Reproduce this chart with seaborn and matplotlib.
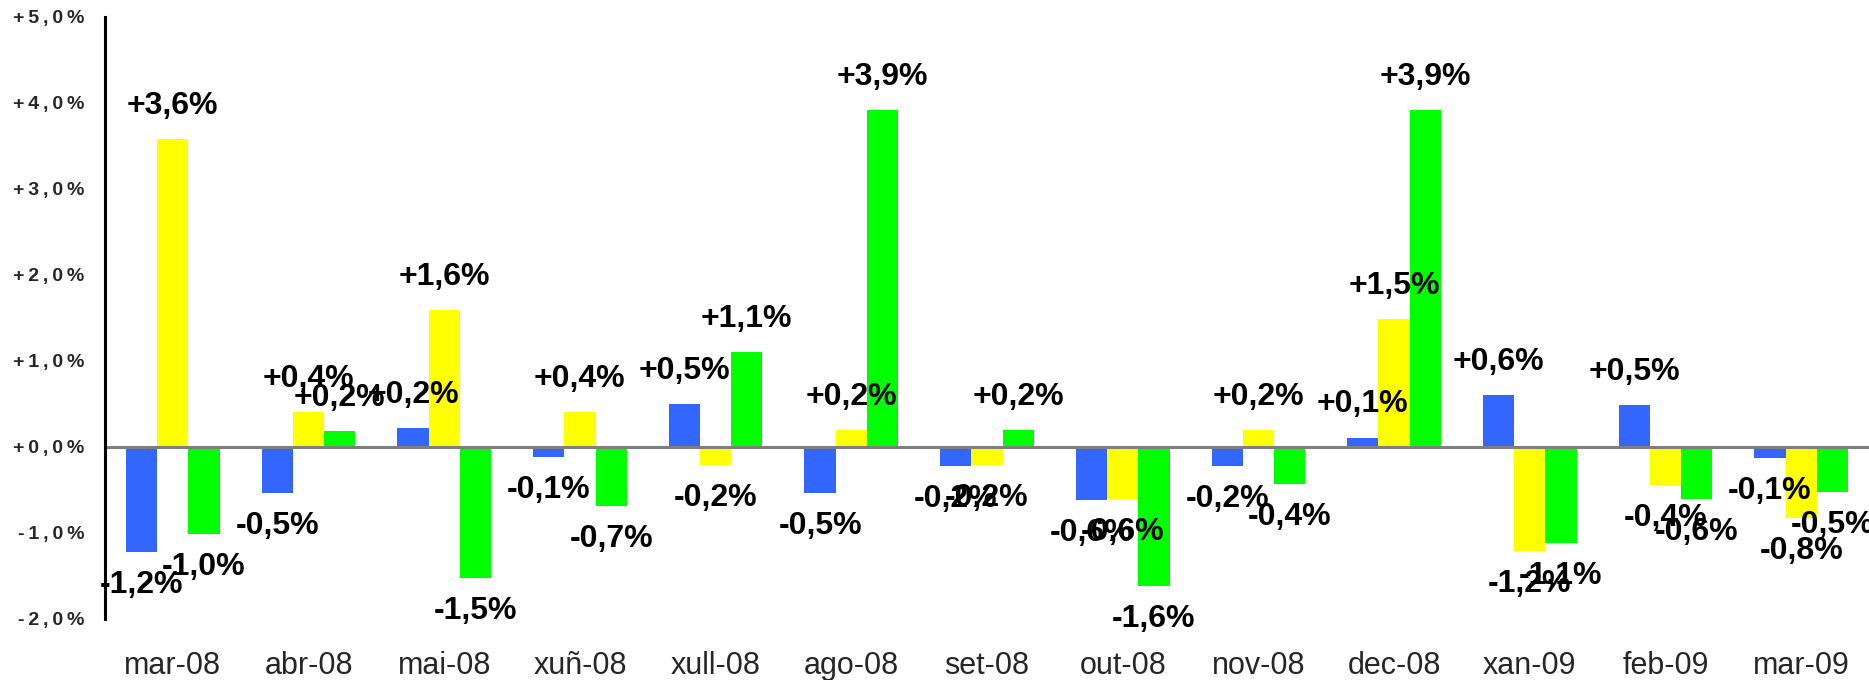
import matplotlib
matplotlib.use("Agg")
import matplotlib.pyplot as plt
import pandas as pd
import seaborn as sns
from matplotlib.ticker import FixedLocator, FuncFormatter

# months on the x axis
meses = ["mar-08", "abr-08", "mai-08", "xuñ-08", "xull-08", "ago-08", "set-08",
         "out-08", "nov-08", "dec-08", "xan-09", "feb-09", "mar-09"]

# monthly variation (%) for the three series
azul = [-1.22, -0.53, 0.22, -0.12, 0.50, -0.54, -0.22, -0.62, -0.22, 0.11, 0.60, 0.49, -0.13]
amarelo = [3.58, 0.41, 1.59, 0.41, -0.21, 0.20, -0.21, -0.60, 0.20, 1.49, -1.21, -0.44, -0.82]
verde = [-1.01, 0.19, -1.52, -0.69, 1.10, 3.92, 0.20, -1.62, -0.43, 3.92, -1.12, -0.60, -0.52]

series = ["azul", "amarelo", "verde"]
cores = ["#3366FF", "#FFFF00", "#00FF00"]
yticks = [-2, -1, 0, 1, 2, 3, 4, 5]

df = pd.DataFrame({
    "mes": meses * 3,
    "serie": [s for s in series for _ in meses],
    "valor": azul + amarelo + verde,
})

sns.set_style("white")
plt.rcParams["font.family"] = ["Liberation Sans", "DejaVu Sans"]

fig = plt.figure(figsize=(18.69, 6.8), dpi=100)
ax = fig.add_axes([105 / 1869, 61 / 680, 1 - 105 / 1869, (619 - 17) / 680])

sns.barplot(data=df, x="mes", y="valor", hue="serie", hue_order=series,
            palette=cores, saturation=1, width=0.69, gap=0, legend=False,
            linewidth=0, ax=ax)

# value labels, comma as decimal separator
def fmt(v):
    return f"{v:+.1f}%".replace(".", ",")

for cont, vals in zip(ax.containers, [azul, amarelo, verde]):
    ax.bar_label(cont, labels=[fmt(v) for v in vals], padding=13,
                 fontsize=23, fontweight="bold", color="black")

ax.set_ylim(-2, 5)
ax.set_xlim(-0.5, len(meses) - 0.5)
ax.set_xlabel("")
ax.set_ylabel("")

# y axis: spaced out bold tick labels (thin spaces between characters)
ax.yaxis.set_major_locator(FixedLocator(yticks))
ax.yaxis.set_major_formatter(FuncFormatter(
    lambda v, p: "\u2009".join(f"{v:+.1f}%".replace(".", ","))))
ax.tick_params(axis="y", which="major", direction="out", length=5, width=2,
               color="black", pad=10, labelsize=14)
for t in ax.get_yticklabels():
    t.set_fontweight("bold")

# x axis: grey line at zero with marks between months
ax.spines["bottom"].set_position(("data", 0))
ax.spines["bottom"].set_color("#7f7f7f")
ax.spines["bottom"].set_linewidth(2.2)
ax.spines["bottom"].set_zorder(1)
ax.spines["left"].set_color("black")
ax.spines["left"].set_linewidth(2.2)
ax.spines["top"].set_visible(False)
ax.spines["right"].set_visible(False)

ax.xaxis.set_minor_locator(FixedLocator([i + 0.5 for i in range(len(meses) - 1)]))
ax.tick_params(axis="x", which="minor", direction="out", length=5, width=2,
               color="#7f7f7f")
ax.tick_params(axis="x", which="major", length=0, pad=147, labelsize=22)

fig.savefig("out.png", dpi=100)
